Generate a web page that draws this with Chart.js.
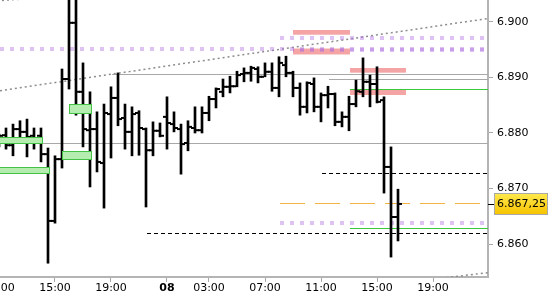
<!DOCTYPE html>
<html><head><meta charset="utf-8">
<script src="https://cdn.jsdelivr.net/npm/chart.js@4/dist/chart.umd.min.js"></script>
<style>html,body{margin:0;padding:0;background:#fff}#wrap{width:550px;height:300px;position:relative}</style>
</head><body><div id="wrap"><canvas id="c" width="550" height="300"></canvas></div>
<script>
// ---- data (30-minute bars, index = bar slot) ----
const opens = [6.8787,6.8796,6.8778,6.8807,6.8802,6.8795,6.8795,6.8762,6.8642,6.8753,
6.8897,6.8998,6.8874,6.8805,6.8807,6.8746,6.8834,6.8863,6.8827,6.8802,
6.8836,6.8807,6.8769,6.8804,6.8829,6.8816,6.8807,6.8782,6.8809,6.8805,
6.8836,6.8861,6.8874,6.8883,6.8884,6.8906,6.8908,6.8915,6.8901,6.8910,
6.8881,6.8922,6.8908,6.8881,6.8847,6.8888,6.8847,6.8868,6.8870,6.8820,
6.8829,6.8852,6.8874,6.8892,6.8888,6.8859,6.8739,6.8649];
const highs = [6.8798,6.8809,6.8816,6.8822,6.8825,6.8809,6.8809,6.8773,6.8759,6.8915,
6.9060,6.9050,6.8926,6.8874,6.8838,6.8852,6.8883,6.8908,6.8852,6.8847,
6.8840,6.8809,6.8820,6.8818,6.8865,6.8838,6.8816,6.8822,6.8847,6.8847,
6.8866,6.8881,6.8897,6.8902,6.8911,6.8917,6.8920,6.8919,6.8926,6.8926,
6.8937,6.8938,6.8911,6.8890,6.8892,6.8899,6.8872,6.8884,6.8872,6.8838,
6.8866,6.8895,6.8935,6.8904,6.8919,6.8865,6.8775,6.8699];
const lows = [6.8775,6.8771,6.8759,6.8793,6.8757,6.8771,6.8748,6.8566,6.8638,6.8737,
6.8879,6.8832,6.8775,6.8703,6.8730,6.8665,6.8755,6.8813,6.8771,6.8759,
6.8760,6.8667,6.8759,6.8793,6.8771,6.8802,6.8726,6.8768,6.8800,6.8800,
6.8822,6.8845,6.8865,6.8872,6.8883,6.8892,6.8893,6.8890,6.8901,6.8875,
6.8865,6.8901,6.8865,6.8832,6.8836,6.8838,6.8820,6.8845,6.8813,6.8811,
6.8804,6.8847,6.8865,6.8847,6.8854,6.8692,6.8577,6.8606];
const closes = [6.8795,6.8778,6.8807,6.8802,6.8793,6.8791,6.8762,6.8642,6.8753,6.8897,
6.8998,6.8874,6.8807,6.8807,6.8748,6.8836,6.8863,6.8825,6.8802,6.8834,
6.8809,6.8769,6.8804,6.8795,6.8818,6.8809,6.8780,6.8811,6.8805,6.8836,
6.8861,6.8879,6.8883,6.8884,6.8904,6.8908,6.8917,6.8901,6.8910,6.8881,
6.8926,6.8908,6.8881,6.8847,6.8890,6.8847,6.8868,6.8870,6.8820,6.8829,
6.8852,6.8875,6.8892,6.8888,6.8856,6.8739,6.8649,6.86725];

const timeTickIndex = [0, 8, 16, 24, 30, 38, 46, 54, 62];
const timeTickLabels = ['11:00','15:00','19:00','08','03:00','07:00','11:00','15:00','19:00'];
const priceTicks = [6.86, 6.87, 6.88, 6.89, 6.90];
const lastPrice = 6.86725;
const lastPriceLabel = '6.867,25';

// drawn objects: [fromIndex, price] lines extend to right edge
const grayLines = [[16.14, 6.8906], [47.14, 6.88965], [-1, 6.87815]];
const purpleDotLines = [[-1, 6.89504], [40.14, 6.89716], [42, 6.89492], [40.14, 6.86388]];
const blackDashLines = [[46, 6.87276], [21, 6.86198]];
const orangeDashLines = [[40.14, 6.86737]];
const greenLines = [[50.14, 6.88785], [50.14, 6.86287]];
// trendlines: [x0, p0, x1, p1]
const trendLines = [[0.143, 6.8876, 69.86, 6.90058], [-1, 6.90370, 6.0, 6.90430], [63.86, 6.8540, 69.86, 6.8549]];
// zones: [x0, x1, pTop, pBottom]
const pinkZones = [[42, 50.14, 6.89851, 6.89766], [42, 50.14, 6.89518, 6.89411], [50.14, 58.14, 6.89168, 6.89084], [50.14, 58.14, 6.88785, 6.88683]];
const greenBoxes = [[-1, 6.1, 6.87928, 6.87820], [-1, 7.19, 6.87384, 6.87276], [10, 13.1, 6.88516, 6.88354], [9.04, 13.1, 6.87676, 6.87527]];

const FONT = 'DejaVu Sans';
Chart.defaults.font.family = FONT;
Chart.defaults.font.size = 11;

function hLine(ctx, a, x, y, fromIdx, price, opts) {
  const px0 = Math.max(a.left, x.getPixelForValue(fromIdx));
  const py = Math.round(y.getPixelForValue(price)) + (opts.width % 2 === 1 ? 0.5 : 0);
  ctx.save();
  ctx.strokeStyle = opts.color; ctx.lineWidth = opts.width;
  if (opts.dash) { ctx.setLineDash(opts.dash); const P = opts.dash.reduce((s, v) => s + v, 0); ctx.lineDashOffset = (px0 - a.left) % P; }
  ctx.beginPath(); ctx.moveTo(px0, py); ctx.lineTo(a.right, py); ctx.stroke();
  ctx.restore();
}

const overlayPlugin = {
  id: 'overlays',
  beforeDatasetsDraw(chart) {
    const {ctx, chartArea: a, scales: {x, y}} = chart;
    ctx.save();
    ctx.beginPath(); ctx.rect(a.left, a.top, a.right - a.left, a.bottom - a.top); ctx.clip();
    ctx.fillStyle = '#f4a4a4';
    pinkZones.forEach(z => {
      const x0 = x.getPixelForValue(z[0]), x1 = x.getPixelForValue(z[1]);
      const y0 = y.getPixelForValue(z[2]), y1 = y.getPixelForValue(z[3]);
      ctx.fillRect(x0, y0, x1 - x0, y1 - y0);
    });
    grayLines.forEach(l => hLine(ctx, a, x, y, l[0], l[1], {color: '#a8a8a8', width: 1}));
    trendLines.forEach(t => {
      ctx.save();
      ctx.strokeStyle = '#8c8c8c'; ctx.lineWidth = 1.5; ctx.setLineDash([2, 3]);
      ctx.beginPath();
      ctx.moveTo(x.getPixelForValue(t[0]), y.getPixelForValue(t[1]));
      ctx.lineTo(x.getPixelForValue(t[2]), y.getPixelForValue(t[3]));
      ctx.stroke(); ctx.restore();
    });
    purpleDotLines.forEach(l => hLine(ctx, a, x, y, l[0], l[1], {color: 'rgba(175,110,225,0.42)', width: 4, dash: [4, 6]}));
    blackDashLines.forEach(l => hLine(ctx, a, x, y, l[0], l[1], {color: '#000', width: 1, dash: [4, 3]}));
    orangeDashLines.forEach(l => hLine(ctx, a, x, y, l[0], l[1], {color: '#f2b447', width: 1, dash: [25, 10]}));
    greenLines.forEach(l => hLine(ctx, a, x, y, l[0], l[1], {color: '#3cc83c', width: 1}));
    ctx.restore();
  },
  afterDatasetsDraw(chart) {
    const {ctx, chartArea: a, scales: {x, y}} = chart;
    ctx.save();
    ctx.beginPath(); ctx.rect(a.left, a.top, a.right - a.left, a.bottom - a.top); ctx.clip();
    greenBoxes.forEach(b => {
      const x0 = Math.round(x.getPixelForValue(b[0])) + 0.5, x1 = Math.round(x.getPixelForValue(b[1])) + 0.5;
      const y0 = Math.round(y.getPixelForValue(b[2])) + 0.5, y1 = Math.round(y.getPixelForValue(b[3])) + 0.5;
      ctx.fillStyle = '#b5ecb0'; ctx.fillRect(x0, y0, x1 - x0, y1 - y0);
      ctx.strokeStyle = '#45c245'; ctx.lineWidth = 1; ctx.strokeRect(x0, y0, x1 - x0, y1 - y0);
    });
    ctx.restore();
  },
  afterDraw(chart) {
    const {ctx, chartArea: a, scales: {y}} = chart;
    const py = y.getPixelForValue(lastPrice);
    ctx.save();
    ctx.strokeStyle = '#000'; ctx.lineWidth = 1;
    ctx.beginPath(); ctx.moveTo(a.right, Math.round(py) + 0.5); ctx.lineTo(a.right + 6, Math.round(py) + 0.5); ctx.stroke();
    const bx = a.right + 6.5, bw = 53, bt = Math.round(py) - 10.5, bh = 21;
    const g = ctx.createLinearGradient(0, bt, 0, bt + bh);
    g.addColorStop(0, '#ffe94d'); g.addColorStop(1, '#f7c300');
    ctx.fillStyle = g; ctx.fillRect(bx, bt, bw, bh);
    ctx.strokeStyle = '#a8a8a8'; ctx.strokeRect(bx, bt, bw, bh);
    ctx.fillStyle = '#000'; ctx.font = '11px "' + FONT + '"';
    ctx.textBaseline = 'middle'; ctx.textAlign = 'left';
    ctx.fillText(lastPriceLabel, a.right + 9, py + 0.5);
    ctx.restore();
  }
};

const idx = opens.map((_, i) => i);
new Chart(document.getElementById('c'), {
  type: 'bar',
  data: {
    datasets: [
      {
        type: 'bar', data: idx.map(i => ({x: i, y: [lows[i], highs[i]]})),
        backgroundColor: '#000', borderWidth: 0, barThickness: 2, order: 2
      },
      {
        type: 'scatter', data: idx.map(i => ({x: i - 0.357, y: opens[i]})),
        pointStyle: 'line', pointRadius: 1.5, borderColor: '#000', pointBorderWidth: 2, borderWidth: 2, showLine: false, order: 1
      },
      {
        type: 'scatter', data: idx.map(i => ({x: i + 0.357, y: closes[i]})),
        pointStyle: 'line', pointRadius: 1.5, borderColor: '#000', pointBorderWidth: 2, borderWidth: 2, showLine: false, order: 1
      }
    ]
  },
  options: {
    responsive: false, animation: false, events: [],
    layout: {padding: 0, autoPadding: false},
    plugins: {legend: {display: false}, tooltip: {enabled: false}},
    scales: {
      x: {
        type: 'linear', min: 0.143, max: 69.857, offset: false,
        grid: {display: true, offset: false, drawOnChartArea: false, drawTicks: true, tickLength: 5, color: '#a8a8a8', tickColor: '#a8a8a8', tickWidth: 1},
        border: {display: true, color: '#b4b4b4', width: 2},
        ticks: {
          autoSkip: false, maxRotation: 0, padding: 0, color: '#000',
          font: ctx => ({family: FONT, size: 11, weight: timeTickLabels[ctx.index] === '08' ? 'bold' : 'normal'}),
          callback: (v, i) => timeTickLabels[i]
        },
        afterBuildTicks: s => { s.ticks = timeTickIndex.map(v => ({value: v})); },
        afterFit: s => { s.height = 23; s.paddingLeft = 0; s.paddingRight = 0; }
      },
      y: {
        type: 'linear', position: 'right', min: 6.85412, max: 6.9039, beginAtZero: false,
        grid: {display: true, drawOnChartArea: false, drawTicks: true, tickLength: 5, color: '#a8a8a8', tickColor: '#a8a8a8', tickWidth: 1},
        border: {display: true, color: '#b4b4b4', width: 2},
        ticks: {padding: 4, color: '#000', font: {family: FONT, size: 11}, callback: v => v.toFixed(3)},
        afterBuildTicks: s => { s.ticks = priceTicks.map(v => ({value: v})); },
        afterFit: s => { s.width = 62; s.paddingTop = 0; s.paddingBottom = 0; }
      }
    }
  },
  plugins: [overlayPlugin]
});
</script>
</body></html>
